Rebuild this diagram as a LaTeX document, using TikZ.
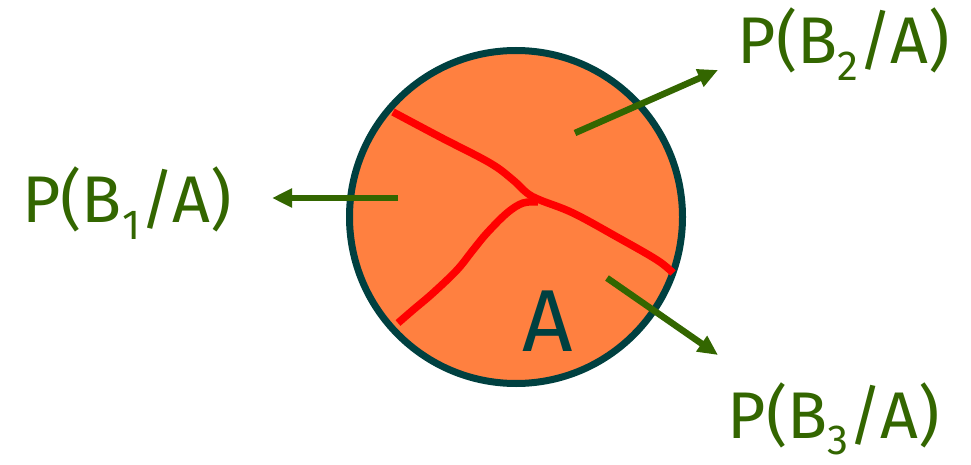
\documentclass[tikz,border=0pt]{standalone}
\usepackage{fontspec}
\setmainfont{Fira Sans}
\usetikzlibrary{arrows.meta}
\definecolor{verdeProb}{HTML}{336600}
\definecolor{naranjaA}{HTML}{FF8040}
\definecolor{bordeA}{HTML}{004040}
\newcommand\indice[1]{\raisebox{-0.25em}{\fontsize{42}{42}\selectfont #1}}

\begin{document}
\begin{tikzpicture}[
        x=1pt, y=-1pt,
        conjunto/.style={circle, fill=naranjaA, draw=bordeA, line width=7pt, minimum size=333pt, inner sep=0pt},
        particion/.style={draw=red, line width=7.5pt},
        flecha/.style={-{Triangle[length=20pt, width=18pt]}, draw=verdeProb, line width=6.5pt},
        etiqueta/.style={text=verdeProb, font=\fontsize{66}{70}\selectfont, inner sep=0pt},
        letraA/.style={text=bordeA, font=\fontsize{88}{90}\selectfont, inner sep=0pt}
    ]
        \useasboundingbox (0,0) rectangle (971,465);

        % Conjunto A
        \node[conjunto] (A) at (516,217) {};

        % Particion de A
        \draw[particion] plot[smooth, tension=0.6] coordinates {(393,112) (440,137) (490,163) (513,180) (527,193) (540,200) (573,213) (617,237) (657,260) (673,273)};
        \draw[particion] plot[smooth, tension=0.6] coordinates {(538,202) (523,203) (507,213) (487,233) (473,250) (457,270) (433,293) (413,310) (398,323)};

        \node[letraA] (letra) at (548,321) {A};

        % Probabilidades condicionadas
        \node[etiqueta] (pb1) at (127,203) {P(B\indice{1}/A)};
        \node[etiqueta] (pb2) at (844,44) {P(B\indice{2}/A)};
        \node[etiqueta] (pb3) at (834,419) {P(B\indice{3}/A)};

        \coordinate (b1) at (398,198);
        \coordinate (b2) at (575,133);
        \coordinate (b3) at (607,278);
        \coordinate (f1) at (272,198);
        \coordinate (f2) at (718,70);
        \coordinate (f3) at (718,355);

        \draw[flecha] (b1) -- (f1);
        \draw[flecha] (b2) -- (f2);
        \draw[flecha] (b3) -- (f3);
    \end{tikzpicture}
\end{document}
